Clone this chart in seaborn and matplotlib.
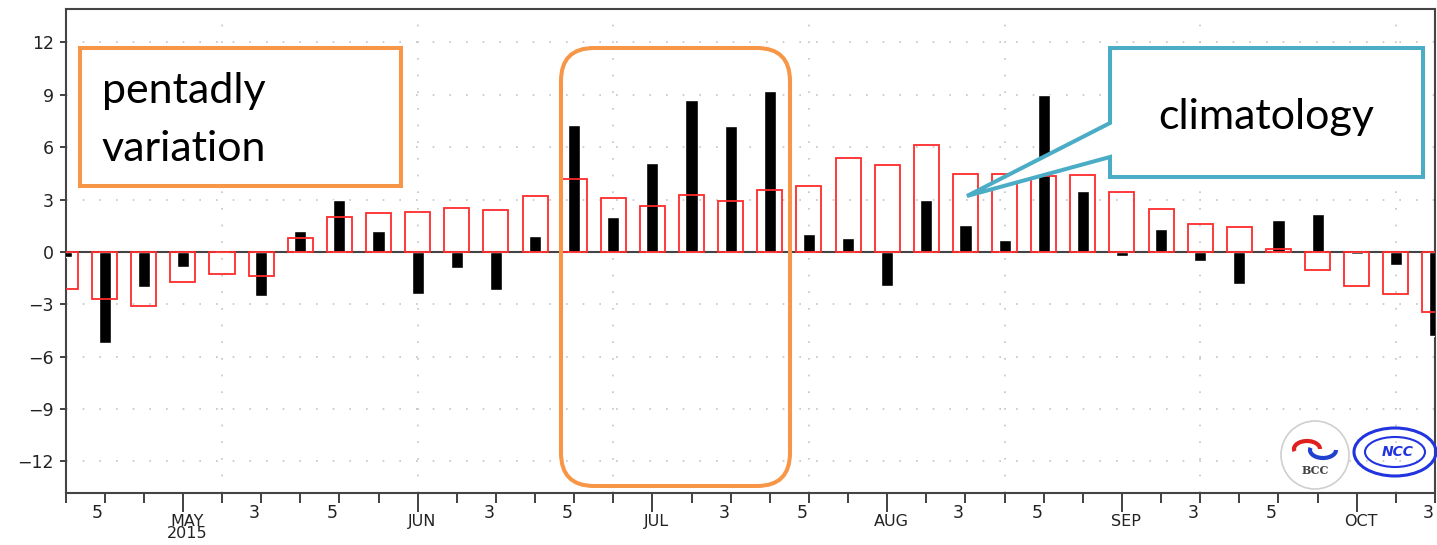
import matplotlib
matplotlib.use('Agg')
import matplotlib.pyplot as plt
import matplotlib.transforms as mtransforms
from matplotlib.patches import Rectangle, FancyBboxPatch, Polygon, Circle, Ellipse, Arc
import seaborn as sns
import pandas as pd

# pentads from Apr-4 to Oct-3, 2015
months = ['APR'] * 3 + ['MAY'] * 6 + ['JUN'] * 6 + ['JUL'] * 6 + ['AUG'] * 6 + ['SEP'] * 6 + ['OCT'] * 3
pentad_no = [4, 5, 6] + [1, 2, 3, 4, 5, 6] * 5 + [1, 2, 3]
year = '2015'

climatology = [-2.15, -2.7, -3.1, -1.75, -1.25, -1.4, 0.8, 2.0, 2.25, 2.3, 2.5, 2.4,
               3.2, 4.2, 3.1, 2.65, 3.25, 2.9, 3.55, 3.8, 5.4, 5.0, 6.1, 4.45,
               4.45, 4.35, 4.4, 3.45, 2.45, 1.6, 1.42, 0.16, -1.05, -1.95, -2.4, -3.45]
pentadly = [-0.3, -5.2, -2.0, -0.87, 0.1, -2.5, 1.2, 3.0, 1.2, -2.4, -0.93, -2.2,
            0.9, 7.25, 2.0, 5.1, 8.7, 7.2, 9.2, 1.05, 0.8, -1.95, 3.0, 1.55,
            0.7, 9.0, 3.5, -0.25, 1.3, -0.5, -1.85, 1.85, 2.17, -0.15, -0.75, -4.8]
y_ticks = [-12, -9, -6, -3, 0, 3, 6, 9, 12]

df = pd.DataFrame({'pentad': range(len(pentadly)), 'obs': pentadly, 'clim': climatology})

sns.set_theme(style='white')
plt.rcParams['font.family'] = ['DejaVu Sans']

W, H = 1437, 545
fig = plt.figure(figsize=(W / 100, H / 100), dpi=100)
ax = fig.add_axes([65.5 / W, 1 - 492.7 / H, (1435 - 65.5) / W, (492.7 - 9.3) / H])

# dotted grid
for y in y_ticks:
    ax.axhline(y, color='#c4c4c4', lw=1.2, ls=(0, (1, 9)), zorder=0)
for x in range(4, len(pentadly), 5):
    ax.axvline(x, color='#c4c4c4', lw=1.2, ls=(0, (1, 9)), zorder=0)
ax.axhline(0, color='#444444', lw=1.5, zorder=2)

sns.barplot(data=df, x='pentad', y='obs', native_scale=True, width=0.31, color='black',
            saturation=1, errorbar=None, ax=ax, zorder=3)
sns.barplot(data=df, x='pentad', y='clim', native_scale=True, width=0.64, color='#ff2b2b',
            fill=False, linewidth=1.3, errorbar=None, ax=ax, zorder=4)

ax.set_xlim(0, len(pentadly) - 1)
ax.set_ylim(-13.8, 13.9)
ax.set_xlabel('')
ax.set_ylabel('')

# x ticks: month starts as major, pentads 3 and 5 labelled as minor
major_pos = [i for i, p in enumerate(pentad_no) if p == 1]
major_lab = [months[i] for i in major_pos]
major_lab[0] = major_lab[0] + '\n' + year
minor_pos = [i for i, p in enumerate(pentad_no) if p != 1]
minor_lab = [str(pentad_no[i]) if pentad_no[i] in (3, 5) else '' for i in minor_pos]
ax.set_xticks(major_pos, labels=major_lab)
ax.set_xticks(minor_pos, labels=minor_lab, minor=True)
ax.set_yticks(y_ticks)

ax.tick_params(axis='x', which='major', bottom=True, direction='out', length=13.5, width=1.3,
               color='#333333', pad=1.5, labelsize=11.5, labelcolor='#222222')
ax.tick_params(axis='x', which='minor', bottom=True, direction='out', length=7, width=1.3,
               color='#333333', pad=1, labelsize=12.5, labelcolor='#222222')
ax.tick_params(axis='y', left=True, direction='out', length=4.5, width=1.3,
               color='#333333', pad=4, labelsize=12.5, labelcolor='#222222')
for lab in ax.get_xticklabels(minor=True):
    lab.set_transform(lab.get_transform() + mtransforms.ScaledTranslation(-5 / 72, 0, fig.dpi_scale_trans))
for lab in ax.get_xticklabels():
    lab.set_transform(lab.get_transform() + mtransforms.ScaledTranslation(3 / 72, 0, fig.dpi_scale_trans))
    lab.set_linespacing(0.78)

for s in ax.spines.values():
    s.set_color('#444444')
    s.set_linewidth(1.5)

# overlay in pixel coordinates for the slide annotations
ov = fig.add_axes([0, 0, 1, 1])
ov.set_xlim(0, W)
ov.set_ylim(H, 0)
ov.axis('off')
ov.patch.set_alpha(0)

orange = '#F79646'
teal = '#4BACC6'
ov.add_patch(Rectangle((80, 48), 321, 138, fc='white', ec=orange, lw=2.9))
ov.text(102, 103, 'pentadly', family='Lato', fontsize=31, color='black', va='baseline', ha='left')
ov.text(102, 161, 'variation', family='Lato', fontsize=31, color='black', va='baseline', ha='left')

ov.add_patch(FancyBboxPatch((561, 48), 229, 438, boxstyle='round,pad=0,rounding_size=33',
                            fc='none', ec=orange, lw=2.9))

callout = [(1110, 48), (1423, 48), (1423, 177), (1110, 177), (1110, 157), (967, 196), (1110, 123)]
ov.add_patch(Polygon(callout, closed=True, fc='white', ec=teal, lw=2.9, joinstyle='miter'))
ov.text(1266, 129, 'climatology', family='Lato', fontsize=31, color='black', va='baseline', ha='center')

# logos (rough)
ov.add_patch(Circle((1315, 455), 34, fc='white', ec='#cfcfcf', lw=1.2))
ov.add_patch(Arc((1307, 449), 26, 16, theta1=170, theta2=360, color='#e02020', lw=3))
ov.add_patch(Arc((1323, 450), 26, 16, theta1=0, theta2=190, color='#2040d0', lw=3))
ov.text(1315, 470, 'BCC', family='DejaVu Serif', fontsize=8, weight='bold', color='#444444',
        ha='center', va='center')
ov.add_patch(Ellipse((1395, 452), 82, 48, fc='none', ec='#2233e0', lw=2.2))
ov.add_patch(Ellipse((1395, 452), 60, 30, fc='none', ec='#2233e0', lw=1.5))
ov.text(1398, 452, 'NCC', fontsize=10, style='italic', weight='bold', color='#2233e0',
        ha='center', va='center')

fig.savefig('out.png', dpi=100)
